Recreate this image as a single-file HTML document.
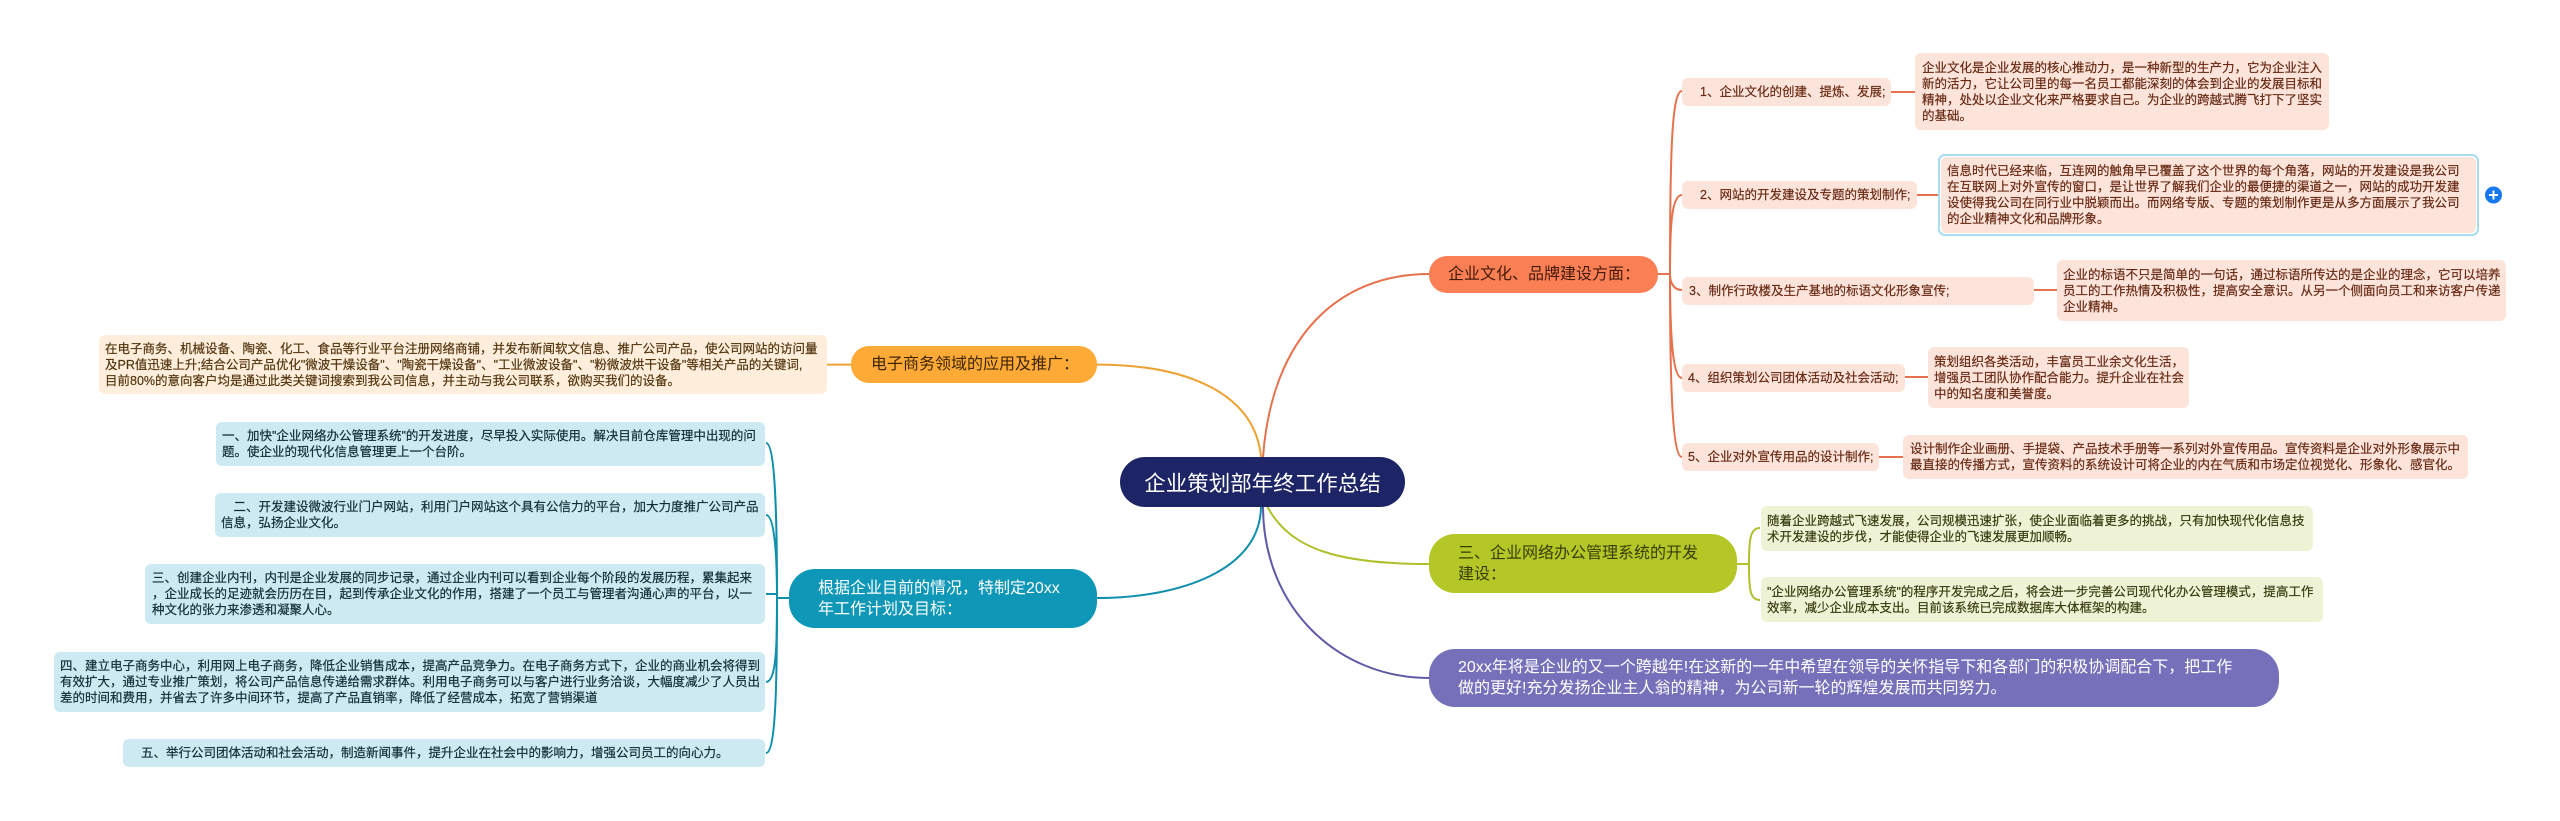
<!DOCTYPE html>
<html lang="zh">
<head>
<meta charset="utf-8">
<title>企业策划部年终工作总结</title>
<style>
html,body{margin:0;padding:0;background:#fff;}
body{position:relative;width:2560px;height:821px;overflow:hidden;font-family:"Liberation Sans","Noto Sans CJK SC",sans-serif;}
svg.l{position:absolute;left:0;top:0;}
.b{position:absolute;box-sizing:border-box;display:flex;align-items:center;white-space:nowrap;}
.leaf{font-size:12.5px;line-height:16px;border-radius:6px;-webkit-text-stroke:.2px currentColor;}
.main{font-size:16px;line-height:21px;}
.r{background:#fde4da;color:#672a15;}
.o{background:#feeedb;color:#523610;}
.t{background:#cde9f1;color:#0f2e38;}
.g{background:#eff3d5;color:#383c11;}
</style>
</head>
<body>
<svg class="l" width="2560" height="821" fill="none" stroke-width="2">
  <g stroke="#e5724c">
    <path d="M1263 457C1272 335 1340 274 1429 274"/>
    <path d="M1658 274L1670 274"/>
    <path d="M1670 274C1670 150 1672 91 1682 91"/>
    <path d="M1670 274C1670 230 1671 195 1682 195"/>
    <path d="M1670 274C1670 280 1672 290 1682 290"/>
    <path d="M1670 274C1670 330 1672 378 1682 378"/>
    <path d="M1670 274C1670 380 1672 457 1682 457"/>
    <path d="M1891 92L1915 92M1917 195L1941 195M2034 290L2057 290M1905 377L1928 377M1879 457L1903 457"/>
  </g>
  <g stroke="#eea233">
    <path d="M1097 364.6C1190 364.6 1255 395 1261 457"/>
    <path d="M827 364.6L851 364.6"/>
  </g>
  <g stroke="#0f8fae">
    <path d="M1097 598C1180 598 1261 570 1261 506"/>
    <path d="M789 598L777 598"/>
    <path d="M777 598C777 530 776 443 766 443"/>
    <path d="M777 598C777 570 776 515 766 515"/>
    <path d="M766 594L778 594"/>
    <path d="M777 598C777 640 777 682 766 682"/>
    <path d="M777 598C777 680 776 753 766 753"/>
  </g>
  <g stroke="#afc02c">
    <path d="M1267 506C1290 550 1340 564 1429 564"/>
    <path d="M1737 564L1749 564"/>
    <path d="M1749 564C1749 540 1750 528 1760 528"/>
    <path d="M1749 564C1749 590 1750 600 1760 600"/>
  </g>
  <path stroke="#5f5aa6" d="M1263 506C1263 610 1340 678 1429 678"/>
</svg>

<!-- root -->
<div class="b" style="left:1120px;top:457px;width:285px;height:50px;border-radius:25px;background:#1e2566;color:#fff;font-size:21.5px;justify-content:center;">企业策划部年终工作总结</div>

<!-- main branches -->
<div class="b main" style="left:1429px;top:256px;width:229px;height:37px;border-radius:18px;background:#fb7f54;color:#431a0b;padding-left:19px;">企业文化、品牌建设方面：</div>
<div class="b main" style="left:851px;top:346px;width:246px;height:37px;border-radius:18px;background:#fdaa36;color:#3d2508;padding-left:20px;">电子商务领域的应用及推广：</div>
<div class="b main" style="left:789px;top:569px;width:308px;height:59px;border-radius:26px;background:#0e97b6;color:#fff;padding-left:29px;">根据企业目前的情况，特制定20xx<br>年工作计划及目标：</div>
<div class="b main" style="left:1429px;top:534px;width:308px;height:59px;border-radius:26px;background:#b5c726;color:#373d0a;padding-left:29px;">三、企业网络办公管理系统的开发<br>建设：</div>
<div class="b main" style="left:1429px;top:649px;width:850px;height:58px;border-radius:26px;background:#7570b9;color:#fff;padding-left:29px;">20xx年将是企业的又一个跨越年!在这新的一年中希望在领导的关怀指导下和各部门的积极协调配合下，把工作<br>做的更好!充分发扬企业主人翁的精神，为公司新一轮的辉煌发展而共同努力。</div>

<!-- red side -->
<div class="b leaf r" style="left:1682px;top:78px;width:209px;height:28px;padding-left:18px;">1、企业文化的创建、提炼、发展;</div>
<div class="b leaf r" style="left:1682px;top:181px;width:235px;height:28px;padding-left:18px;">2、网站的开发建设及专题的策划制作;</div>
<div class="b leaf r" style="left:1682px;top:277px;width:352px;height:28px;padding-left:7px;">3、制作行政楼及生产基地的标语文化形象宣传;</div>
<div class="b leaf r" style="left:1682px;top:364px;width:223px;height:28px;padding-left:6px;">4、组织策划公司团体活动及社会活动;</div>
<div class="b leaf r" style="left:1682px;top:443px;width:197px;height:28px;padding-left:6px;">5、企业对外宣传用品的设计制作;</div>

<div class="b leaf r" style="left:1915px;top:53px;width:414px;height:77px;padding-left:7px;">企业文化是企业发展的核心推动力，是一种新型的生产力，它为企业注入<br>新的活力，它让公司里的每一名员工都能深刻的体会到企业的发展目标和<br>精神，处处以企业文化来严格要求自己。为企业的跨越式腾飞打下了坚实<br>的基础。</div>

<div style="position:absolute;left:1938px;top:154px;width:541px;height:82px;box-sizing:border-box;border:2px solid #a8dcef;border-radius:7px;background:#fff;"></div>
<div class="b leaf r" style="left:1941px;top:157px;width:535px;height:76px;padding-left:6px;">信息时代已经来临，互连网的触角早已覆盖了这个世界的每个角落，网站的开发建设是我公司<br>在互联网上对外宣传的窗口，是让世界了解我们企业的最便捷的渠道之一，网站的成功开发建<br>设使得我公司在同行业中脱颖而出。而网络专版、专题的策划制作更是从多方面展示了我公司<br>的企业精神文化和品牌形象。</div>
<svg class="l" width="2560" height="821">
  <circle cx="2493.5" cy="195" r="8.5" fill="#1677ee"/>
  <path d="M2489 195H2498M2493.5 190.5V199.5" stroke="#fff" stroke-width="2" fill="none"/>
</svg>

<div class="b leaf r" style="left:2057px;top:260px;width:449px;height:61px;padding-left:6px;">企业的标语不只是简单的一句话，通过标语所传达的是企业的理念，它可以培养<br>员工的工作热情及积极性，提高安全意识。从另一个侧面向员工和来访客户传递<br>企业精神。</div>
<div class="b leaf r" style="left:1928px;top:347px;width:261px;height:61px;padding-left:6px;">策划组织各类活动，丰富员工业余文化生活，<br>增强员工团队协作配合能力。提升企业在社会<br>中的知名度和美誉度。</div>
<div class="b leaf r" style="left:1903px;top:435px;width:565px;height:44px;padding-left:7px;">设计制作企业画册、手提袋、产品技术手册等一系列对外宣传用品。宣传资料是企业对外形象展示中<br>最直接的传播方式，宣传资料的系统设计可将企业的内在气质和市场定位视觉化、形象化、感官化。</div>

<!-- green -->
<div class="b leaf g" style="left:1761px;top:506px;width:552px;height:45px;padding-left:6px;">随着企业跨越式飞速发展，公司规模迅速扩张，使企业面临着更多的挑战，只有加快现代化信息技<br>术开发建设的步伐，才能使得企业的飞速发展更加顺畅。</div>
<div class="b leaf g" style="left:1761px;top:577px;width:562px;height:45px;padding-left:6px;">"企业网络办公管理系统"的程序开发完成之后，将会进一步完善公司现代化办公管理模式，提高工作<br>效率，减少企业成本支出。目前该系统已完成数据库大体框架的构建。</div>

<!-- orange -->
<div class="b leaf o" style="left:99px;top:335px;width:728px;height:59px;padding-left:6px;">在电子商务、机械设备、陶瓷、化工、食品等行业平台注册网络商铺，并发布新闻软文信息、推广公司产品，使公司网站的访问量<br>及PR值迅速上升;结合公司产品优化"微波干燥设备"、"陶瓷干燥设备"、"工业微波设备"、"粉微波烘干设备"等相关产品的关键词,<br>目前80%的意向客户均是通过此类关键词搜索到我公司信息，并主动与我公司联系，欲购买我们的设备。</div>

<!-- teal -->
<div class="b leaf t" style="left:216px;top:422px;width:549px;height:44px;padding-left:6px;">一、加快"企业网络办公管理系统"的开发进度，尽早投入实际使用。解决目前仓库管理中出现的问<br>题。使企业的现代化信息管理更上一个台阶。</div>
<div class="b leaf t" style="left:215px;top:493px;width:550px;height:44px;padding-left:6px;"><span>&#8197;&#8197;&#8197;&#8197;二、开发建设微波行业门户网站，利用门户网站这个具有公信力的平台，加大力度推广公司产品<br>信息，弘扬企业文化。</span></div>
<div class="b leaf t" style="left:145px;top:564px;width:620px;height:60px;padding-left:7px;">三、创建企业内刊，内刊是企业发展的同步记录，通过企业内刊可以看到企业每个阶段的发展历程，累集起来<br>，企业成长的足迹就会历历在目，起到传承企业文化的作用，搭建了一个员工与管理者沟通心声的平台，以一<br>种文化的张力来渗透和凝聚人心。</div>
<div class="b leaf t" style="left:54px;top:652px;width:711px;height:60px;padding-left:6px;">四、建立电子商务中心，利用网上电子商务，降低企业销售成本，提高产品竞争力。在电子商务方式下，企业的商业机会将得到<br>有效扩大，通过专业推广策划，将公司产品信息传递给需求群体。利用电子商务可以与客户进行业务洽谈，大幅度减少了人员出<br>差的时间和费用，并省去了许多中间环节，提高了产品直销率，降低了经营成本，拓宽了营销渠道</div>
<div class="b leaf t" style="left:123px;top:739px;width:642px;height:28px;padding-left:18px;">五、举行公司团体活动和社会活动，制造新闻事件，提升企业在社会中的影响力，增强公司员工的向心力。</div>
</body>
</html>
